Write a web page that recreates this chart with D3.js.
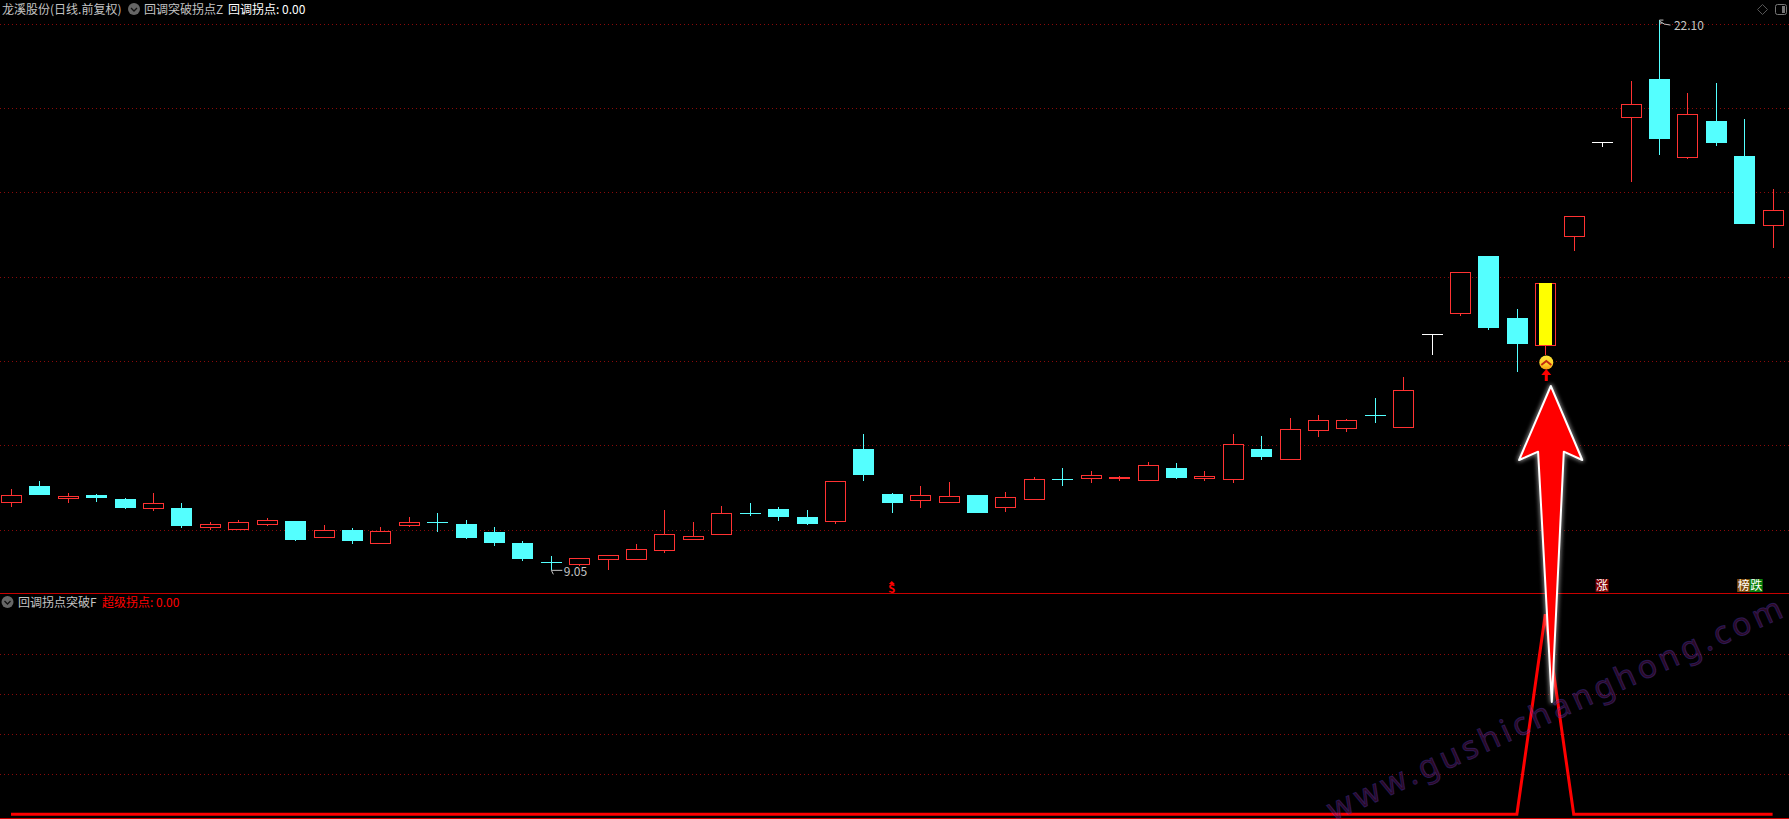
<!DOCTYPE html>
<html><head><meta charset="utf-8">
<script src="https://cdn.jsdelivr.net/npm/d3@7/dist/d3.min.js"></script>
<style>
html,body{margin:0;padding:0;background:#000;overflow:hidden}
svg{display:block}
text{font-family:"Noto Sans CJK SC","DejaVu Sans",sans-serif;font-size:12px}
</style></head><body><svg id="c" width="1789" height="819"></svg>
<script>
const opens=[10.68,11.05,10.77,10.84,10.74,10.54,10.53,10.09,10.02,10.16,10.22,9.83,10.01,9.71,10.13,10.19,10.15,9.96,9.70,9.25,9.21,
9.33,9.33,9.54,9.80,9.92,10.40,10.51,10.32,10.23,11.93,10.86,10.73,10.68,10.84,10.56,10.75,11.21,11.25,11.23,11.20,11.48,
11.23,11.21,11.93,11.70,12.39,12.43,12.74,12.46,14.65,15.16,16.51,15.04,14.40,16.99,19.20,19.81,20.70,18.86,19.71,18.88,17.25];
const closes=[10.83,10.84,10.81,10.77,10.53,10.64,10.10,10.14,10.19,10.24,9.77,10.00,9.75,9.98,10.19,10.18,9.82,9.70,9.32,9.24,9.34,
9.41,9.55,9.91,9.86,10.40,10.39,10.32,10.15,11.17,11.31,10.65,10.83,10.81,10.41,10.78,11.21,11.20,11.30,11.26,11.54,11.24,
11.28,12.04,11.74,12.40,12.61,12.61,12.70,13.32,14.65,16.12,14.80,14.42,15.86,17.45,19.20,20.10,19.28,19.87,19.19,17.26,17.59];
const highs=[10.98,11.17,10.88,10.86,10.77,10.89,10.65,10.20,10.25,10.29,10.22,10.13,10.06,10.08,10.32,10.41,10.25,10.08,9.75,9.39,9.34,
9.41,9.68,10.48,10.20,10.58,10.65,10.55,10.48,11.17,12.28,10.89,11.05,11.15,10.84,10.91,11.26,11.48,11.41,11.29,11.62,11.60,
11.41,12.28,12.24,12.66,12.74,12.63,13.14,13.64,14.65,16.12,16.51,15.25,15.86,17.45,19.20,20.66,22.10,20.37,20.61,19.75,18.09];
const lows=[10.56,10.84,10.65,10.68,10.51,10.46,10.06,10.01,10.02,10.11,9.75,9.83,9.68,9.71,10.08,9.96,9.79,9.63,9.27,9.05,9.15,
9.06,9.33,9.46,9.80,9.92,10.34,10.22,10.13,10.15,11.17,10.41,10.53,10.65,10.41,10.43,10.75,11.05,11.12,11.17,11.17,11.22,
11.18,11.13,11.67,11.70,12.21,12.33,12.55,12.43,14.16,15.08,14.75,13.75,14.16,16.63,19.10,18.25,18.89,18.81,19.11,17.26,16.70];
const priceTicks=[10,12,14,16,18,20,22];
const subTicks=[0.2,0.4,0.6,0.8];
const signalIdx=54;
const subValues=opens.map(()=>0);   // indicator is 0 except the one breakout bar
subValues[signalIdx]=1;
const headerTexts=["龙溪股份(日线.前复权)","回调突破拐点Z","回调拐点: 0.00"];
const subTexts=["回调拐点突破F","超级拐点: 0.00"];
const watermark="www.gushichanghong.com";

const W=1789,H=819;
const svg=d3.select("#c");
svg.append("rect").attr("width",W).attr("height",H).attr("fill","#000");
const x=d3.scaleLinear().domain([0,62]).range([11,1772.6]);
const y=d3.scaleLinear().domain([10,22]).range([530.3,24.3]);
const ys=d3.scaleLinear().domain([0,1]).range([814.3,614.3]);
const GRID="#8a0a0a",RED="#ff3232",CYAN="#54ffff",GRAY="#c4c4c4";
const px=v=>Math.round(v)+.5;

// grid
const dotted=(ticks,scale,cls)=>svg.append("g").attr("class",cls).selectAll("line").data(ticks).join("line")
 .attr("x1",0).attr("x2",W).attr("y1",d=>px(scale(d)-.5)).attr("y2",d=>px(scale(d)-.5))
 .attr("stroke",GRID).attr("stroke-dasharray","1 3");
dotted(priceTicks,y,"grid");
dotted(subTicks,ys,"subgrid");
svg.append("line").attr("x1",0).attr("x2",W).attr("y1",593.5).attr("y2",593.5).attr("stroke","#c80000");
svg.append("line").attr("x1",0).attr("x2",W).attr("y1",818.5).attr("y2",818.5).attr("stroke","#d00000");

// candles
const candles=opens.map((o,i)=>({i,o,c:closes[i],h:highs[i],l:lows[i]}));
const col=d=>d.c>d.o?RED:d.c<d.o?CYAN:"#ffffff";
const g=svg.append("g").attr("class","candles").attr("shape-rendering","crispEdges");
const cg=g.selectAll("g").data(candles).join("g");
cg.append("line").attr("x1",d=>px(x(d.i))).attr("x2",d=>px(x(d.i)))
 .attr("y1",d=>Math.round(y(d.h))).attr("y2",d=>Math.round(y(d.l))).attr("stroke",col);
cg.each(function(d){
  const s=d3.select(this),cx=Math.round(x(d.i)),top=Math.round(y(Math.max(d.o,d.c))),bot=Math.round(y(Math.min(d.o,d.c)));
  if(d.c>d.o){ // hollow red body
    s.append("rect").attr("x",cx-10+.5).attr("y",top+.5).attr("width",20).attr("height",Math.max(1,bot-top))
     .attr("fill","#000").attr("stroke",RED);
    s.append("line").attr("x1",cx+.5).attr("x2",cx+.5).attr("y1",Math.round(y(d.h))).attr("y2",top).attr("stroke",RED);
    s.append("line").attr("x1",cx+.5).attr("x2",cx+.5).attr("y1",bot+1).attr("y2",Math.round(y(d.l))).attr("stroke",RED);
  } else if(d.c<d.o){
    s.append("rect").attr("x",cx-10).attr("y",top).attr("width",21).attr("height",Math.max(1,bot-top)).attr("fill",CYAN);
  } else {
    s.append("rect").attr("x",cx-10).attr("y",top).attr("width",21).attr("height",1).attr("fill","#fff");
  }
});

// highlight on signal candle
const sx=x(signalIdx);
svg.append("rect").attr("class","signal-bar").attr("shape-rendering","crispEdges")
 .attr("x",Math.round(sx)-6).attr("y",y(closes[signalIdx])).attr("width",13)
 .attr("height",y(opens[signalIdx])-y(closes[signalIdx])).attr("fill","#ffff00");

// sub-panel line
svg.append("path").datum(subValues)
 .attr("d",d3.line().x((d,i)=>x(i)).y(d=>ys(d))).attr("fill","none").attr("stroke","#ff0000").attr("stroke-width",3);

// extreme labels
svg.append("path").attr("fill","none").attr("stroke",GRAY)
 .attr("d",`M${x(58)+.5} ${y(22.1)}h4M${x(58)+.5} ${y(22.1)+3}h3M${x(58)+.5} ${y(22.1)+1}l5 3l6 1`);
svg.append("text").attr("x",x(58)+15).attr("y",y(22.1)+10).attr("fill",GRAY).text("22.10").attr("font-family","DejaVu Sans");
svg.append("path").attr("fill","none").attr("stroke",GRAY)
 .attr("d",`M${x(19)+.5} ${y(9.05)}h11M${x(19)+.5} ${y(9.05)}l2 4`);
svg.append("text").attr("x",x(19)+13).attr("y",y(9.05)+6).attr("fill",GRAY).text("9.05").attr("font-family","DejaVu Sans");

// S marker
svg.append("path").attr("d",`M${x(31)-3} 584L${x(31)} 581L${x(31)+3} 584Z`).attr("fill","#ff0000");
svg.append("text").attr("x",x(31)).attr("y",592.5).attr("text-anchor","middle").attr("fill","#ff0000")
 .attr("font-weight","700").style("font-size","11px").text("S");

// badges
const badges=[{t:"涨",i:56,dx:0,f:"#800000"},{t:"榜",i:61,dx:-.5,f:"#7f4a0a"},{t:"跌",i:61,dx:12,f:"#0a800a"}];
const bg=svg.append("g").selectAll("g").data(badges).join("g").attr("transform",d=>`translate(${x(d.i)+d.dx},579)`);
bg.append("rect").attr("x",-6.5).attr("width",13).attr("height",13).attr("fill",d=>d.f);
bg.append("text").attr("y",11).attr("text-anchor","middle").attr("fill","#fff").text(d=>d.t);

// coin + small arrow
const defs=svg.append("defs");
const lg=defs.append("linearGradient").attr("id","coin").attr("x1",0).attr("x2",0).attr("y1",0).attr("y2",1);
lg.append("stop").attr("offset",0).attr("stop-color","#ffe83a");
lg.append("stop").attr("offset",.6).attr("stop-color","#ffd02a");
lg.append("stop").attr("offset",1).attr("stop-color","#f59a10");
const f=defs.append("filter").attr("id","glow").attr("x","-50%").attr("y","-20%").attr("width","200%").attr("height","140%");
f.append("feGaussianBlur").attr("stdDeviation",2);
const cx=sx+1;
svg.append("circle").attr("cx",cx).attr("cy",362.5).attr("r",7).attr("fill","url(#coin)");
svg.append("path").attr("d",`M${cx-5} 365l5-4l5 4`).attr("fill","none").attr("stroke","#c22a10").attr("stroke-width",2);
svg.append("path").attr("fill","#ff0000").attr("d",`M${cx} 369l5 6h-3.5v6h-3v-6h-3.5Z`);

// watermark
svg.append("text").attr("transform","translate(1561,718) rotate(-24.4)").attr("text-anchor","middle")
 .attr("fill","rgba(130,30,110,.36)").attr("stroke","rgba(70,60,190,.36)").attr("stroke-width",1)
 .style("font-family","'Noto Sans'").style("font-size","32px").style("letter-spacing","4.1px").text(watermark);

// big annotation arrow
const ax=x(signalIdx)-.5;
const arrow=`M${ax+6} 386L${ax+37.5} 460L${ax+19} 451.7L${ax+7} 702L${ax-6.7} 451.7L${ax-25.7} 460Z`;
svg.append("path").attr("d",arrow).attr("fill","none").attr("stroke","#fff").attr("stroke-width",3.5).attr("stroke-linejoin","round").attr("filter","url(#glow)").attr("opacity",.6);
svg.append("path").attr("d",arrow).attr("fill","#ff0000").attr("stroke","#fff").attr("stroke-width",2).attr("stroke-linejoin","round");

// header
const icon=(cx,cy)=>{svg.append("circle").attr("cx",cx).attr("cy",cy).attr("r",6).attr("fill","#666");
 svg.append("path").attr("d",`M${cx-3} ${cy-1}l3 3l3-3`).attr("fill","none").attr("stroke","#111").attr("stroke-width",1.3);};
const label=(t,xp,yp,c)=>svg.append("text").attr("x",xp).attr("y",yp).attr("fill",c).text(t);
label(headerTexts[0],2,14,GRAY);
icon(134,9);
label(headerTexts[1],144,14,GRAY);
label(headerTexts[2],228,14,"#fff");
icon(7.5,602);
label(subTexts[0],18,607,GRAY);
label(subTexts[1],102,607,"#ff0000");

// window icons
svg.append("path").attr("d","M1762.5 4.5l5 5l-5 5l-5-5Z").attr("fill","none").attr("stroke","#555");
svg.append("rect").attr("x",1775.5).attr("y",4.5).attr("width",11).attr("height",10).attr("rx",2).attr("fill","none").attr("stroke","#777");
svg.append("rect").attr("x",1782).attr("y",6).attr("width",3).attr("height",7).attr("fill","#777");
</script></body></html>
